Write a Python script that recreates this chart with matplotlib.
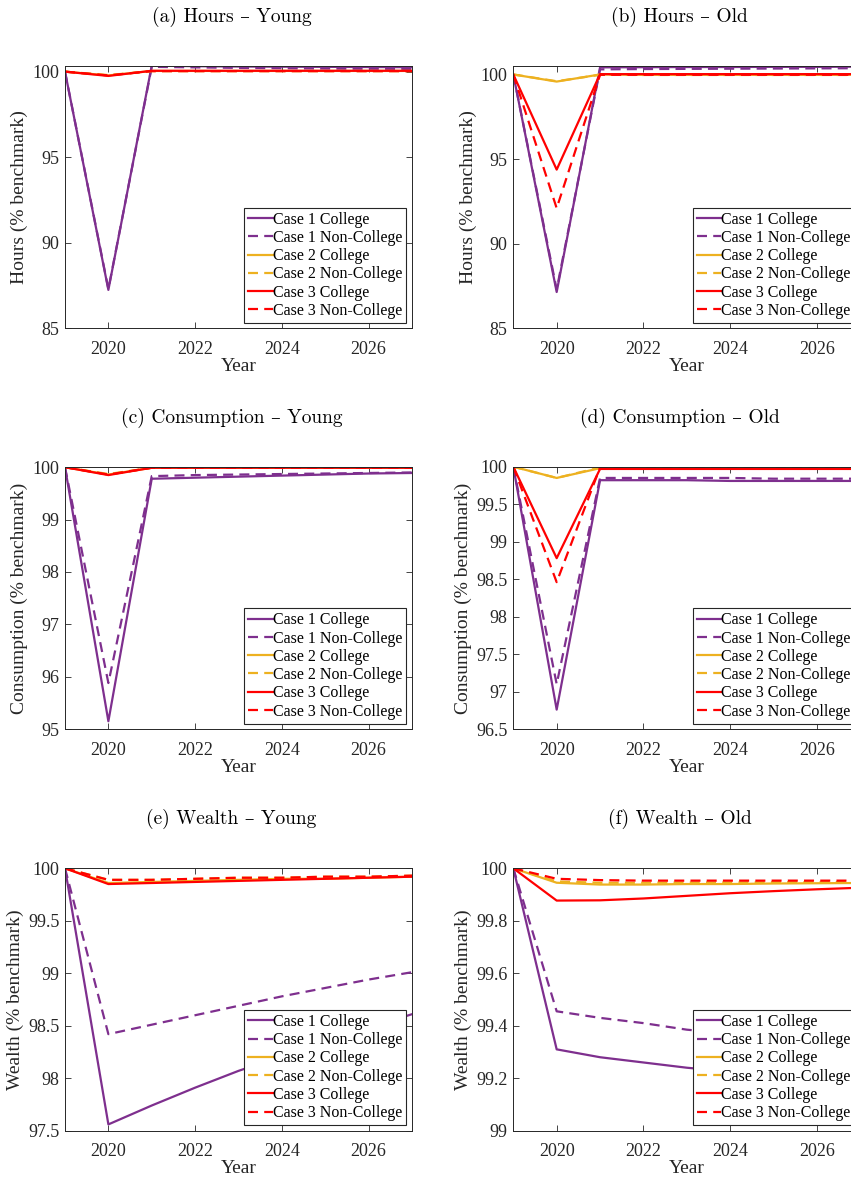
import matplotlib
matplotlib.use("Agg")
import matplotlib.pyplot as plt

plt.rcParams['font.family'] = ['Liberation Serif', 'DejaVu Serif']

years = [2019, 2020, 2021, 2022, 2023, 2024, 2025, 2026, 2027]
labels = ['Case 1 College', 'Case 1 Non-College', 'Case 2 College',
          'Case 2 Non-College', 'Case 3 College', 'Case 3 Non-College']

# hours, young
hours_young = [
    [100, 87.25, 100.35, 100.32, 100.30, 100.29, 100.28, 100.27, 100.26],
    [100, 87.30, 100.28, 100.25, 100.22, 100.20, 100.18, 100.17, 100.16],
    [100, 99.78, 100.04, 100.04, 100.04, 100.04, 100.04, 100.04, 100.04],
    [100, 99.80, 100.03, 100.03, 100.03, 100.03, 100.03, 100.03, 100.03],
    [100, 99.75, 100.05, 100.05, 100.05, 100.05, 100.05, 100.05, 100.05],
    [100, 99.78, 100.03, 100.03, 100.03, 100.03, 100.03, 100.03, 100.03],
]
# hours, old
hours_old = [
    [100, 87.15, 100.42, 100.43, 100.44, 100.44, 100.45, 100.45, 100.46],
    [100, 87.30, 100.30, 100.32, 100.33, 100.34, 100.35, 100.36, 100.37],
    [100, 99.58, 100.00, 99.98, 99.98, 99.98, 99.98, 99.98, 99.98],
    [100, 99.60, 99.98, 99.97, 99.97, 99.97, 99.97, 99.97, 99.97],
    [100, 94.38, 100.02, 100.02, 100.02, 100.02, 100.02, 100.02, 100.02],
    [100, 92.10, 99.98, 99.98, 99.98, 99.98, 99.98, 99.98, 99.98],
]
# consumption, young
cons_young = [
    [100, 95.15, 99.78, 99.80, 99.82, 99.84, 99.86, 99.88, 99.89],
    [100, 95.88, 99.83, 99.85, 99.86, 99.87, 99.88, 99.89, 99.90],
    [100, 99.86, 99.99, 99.99, 99.99, 99.99, 99.99, 99.99, 99.99],
    [100, 99.87, 99.99, 99.99, 99.99, 99.99, 99.99, 99.99, 99.99],
    [100, 99.85, 99.99, 99.99, 99.99, 99.99, 99.99, 99.99, 99.99],
    [100, 99.86, 99.99, 99.99, 99.99, 99.99, 99.99, 99.99, 99.99],
]
# consumption, old
cons_old = [
    [100, 96.76, 99.82, 99.82, 99.82, 99.81, 99.81, 99.81, 99.81],
    [100, 97.10, 99.85, 99.85, 99.85, 99.85, 99.84, 99.84, 99.84],
    [100, 99.85, 99.98, 99.99, 99.99, 99.99, 99.99, 99.99, 99.99],
    [100, 99.85, 99.99, 100.0, 100.0, 100.0, 100.0, 100.0, 100.0],
    [100, 98.78, 99.97, 99.97, 99.97, 99.97, 99.97, 99.97, 99.97],
    [100, 98.46, 99.99, 99.99, 99.99, 99.99, 99.99, 99.99, 99.99],
]
# wealth, young
wealth_young = [
    [100, 97.56, 97.74, 97.91, 98.07, 98.21, 98.35, 98.48, 98.61],
    [100, 98.42, 98.51, 98.60, 98.69, 98.78, 98.86, 98.94, 99.01],
    [100, 99.86, 99.87, 99.88, 99.89, 99.90, 99.90, 99.91, 99.92],
    [100, 99.89, 99.89, 99.90, 99.91, 99.91, 99.92, 99.92, 99.93],
    [100, 99.85, 99.86, 99.87, 99.88, 99.89, 99.90, 99.91, 99.92],
    [100, 99.89, 99.89, 99.90, 99.91, 99.91, 99.92, 99.92, 99.93],
]
# wealth, old
wealth_old = [
    [100, 99.31, 99.28, 99.26, 99.24, 99.225, 99.21, 99.20, 99.19],
    [100, 99.455, 99.43, 99.41, 99.385, 99.37, 99.36, 99.35, 99.34],
    [100, 99.945, 99.938, 99.938, 99.94, 99.94, 99.942, 99.943, 99.944],
    [100, 99.95, 99.945, 99.945, 99.946, 99.946, 99.947, 99.947, 99.948],
    [100, 99.877, 99.878, 99.885, 99.895, 99.905, 99.913, 99.92, 99.926],
    [100, 99.96, 99.955, 99.953, 99.953, 99.953, 99.953, 99.953, 99.953],
]

colors = ['#7E2F8E', '#7E2F8E', '#EDB120', '#EDB120', '#FF0000', '#FF0000']
styles = ['-', '--', '-', '--', '-', '--']

panels = [
    ('(a) Hours – Young', 'Hours (% benchmark)', hours_young, (85, 100.33), [85, 90, 95, 100], None),
    ('(b) Hours – Old', 'Hours (% benchmark)', hours_old, (85, 100.5), [85, 90, 95, 100], None),
    ('(c) Consumption – Young', 'Consumption (% benchmark)', cons_young, (95, 100.01), [95, 96, 97, 98, 99, 100], None),
    ('(d) Consumption – Old', 'Consumption (% benchmark)', cons_old, (96.5, 100.0),
     [96.5, 97, 97.5, 98, 98.5, 99, 99.5, 100], ['96.5', '97', '97.5', '98', '98.5', '99', '99.5', '100']),
    ('(e) Wealth – Young', 'Wealth (% benchmark)', wealth_young, (97.5, 100.0),
     [97.5, 98, 98.5, 99, 99.5, 100], ['97.5', '98', '98.5', '99', '99.5', '100']),
    ('(f) Wealth – Old', 'Wealth (% benchmark)', wealth_old, (99, 100.0),
     [99, 99.2, 99.4, 99.6, 99.8, 100], ['99', '99.2', '99.4', '99.6', '99.8', '100']),
]

W, H = 851, 1180
fig = plt.figure(figsize=(W / 100, H / 100), dpi=100)

lefts = [65, 513.3]
tops = [66, 466.7, 868.3]
ax_w, ax_h = 347, 262.4

for i, (title, ylab, series, ylim, yt, ytl) in enumerate(panels):
    row, col = divmod(i, 2)
    x0 = lefts[col]
    y0 = tops[row]
    ax = fig.add_axes([x0 / W, 1 - (y0 + ax_h) / H, ax_w / W, ax_h / H])
    for vals, c, ls, lab in zip(series, colors, styles, labels):
        line, = ax.plot(years, vals, color=c, linestyle=ls, lw=1.6, label=lab)
        if ls == '--':
            line.set_dashes((4.5, 2.8))
    ax.set_xlim(2019, 2027)
    ax.set_ylim(*ylim)
    ax.set_xticks([2020, 2022, 2024, 2026])
    ax.set_yticks(yt)
    if ytl is not None:
        ax.set_yticklabels(ytl)
    ax.tick_params(direction='in', top=True, right=True, labelsize=13,
                   length=4, width=0.6, colors='#262626')
    ax.tick_params(axis='x', pad=9)
    ax.tick_params(axis='y', pad=4)
    for sp in ax.spines.values():
        sp.set_linewidth(0.7)
        sp.set_color('#262626')
    ax.set_xlabel('Year', fontsize=14, color='#262626', labelpad=0)
    ax.set_ylabel(ylab, fontsize=14, color='#262626', labelpad=3)
    leg = ax.legend(loc='lower right', fontsize=11.5, handlelength=1.55,
                    handletextpad=0.0, labelspacing=0.14, borderpad=0.25,
                    borderaxespad=0.35, fancybox=False, framealpha=1)
    leg.get_frame().set_edgecolor('#262626')
    leg.get_frame().set_linewidth(0.8)
    fig.text((x0 + ax_w / 2 - 7) / W, 1 - (y0 - 49) / H, title,
             ha='center', va='center', fontsize=14,
             family=['cmr10', 'DejaVu Serif'])

fig.savefig('out.png', dpi=100)
